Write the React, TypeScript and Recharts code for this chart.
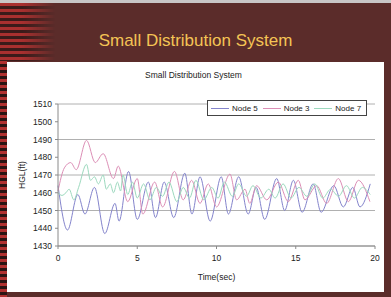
import React from 'react';
import { LineChart, Line, XAxis, YAxis, CartesianGrid, Legend } from 'recharts';

const seriesNames = ['Node 5', 'Node 3', 'Node 7'];
const seriesColors = ['#8484cc', '#dc8eb6', '#9cd9be'];

const xTicks = [0, 5, 10, 15, 20];
const yTicks = [1430, 1440, 1450, 1460, 1470, 1480, 1490, 1500, 1510];

// turning points (time in sec, HGL in ft)
const node5Time = [0, 0.6, 1.25, 1.7, 2.3, 2.95, 3.6, 3.85, 4.45, 5.0, 5.7, 6.15, 6.7, 7.3, 8.0, 8.45, 8.96, 9.6, 10.3, 10.75, 11.4, 12.0, 12.5, 13.04, 13.8, 14.3, 14.85, 15.4, 16.1, 16.6, 17.4, 18.0, 18.6, 19.05, 19.7];
const node5Hgl = [1464, 1439, 1459, 1448, 1463, 1437, 1454, 1444, 1472, 1445, 1466, 1446, 1466, 1446, 1471, 1448, 1469, 1444, 1469, 1448, 1469, 1448, 1463, 1445, 1468, 1450, 1467, 1449, 1465, 1449, 1464, 1452, 1463, 1452, 1465];

const node3Time = [0, 0.4, 0.8, 1.15, 1.8, 2.35, 2.85, 3.5, 3.8, 4.4, 5.0, 5.35, 6.1, 6.6, 7.35, 7.9, 8.43, 8.96, 9.48, 10.0, 10.85, 11.27, 11.8, 12.1, 12.53, 13.17, 13.9, 14.53, 15.16, 15.58, 16.32, 16.95, 17.69, 18.32, 18.95, 19.68];
const node3Hgl = [1461, 1474, 1477, 1473, 1489.5, 1477, 1482, 1468, 1475, 1455, 1468, 1448, 1466, 1452, 1472, 1456, 1467, 1454, 1465, 1452, 1470.5, 1456, 1462, 1454, 1464, 1456, 1466, 1455, 1467, 1456, 1464, 1454, 1468, 1455, 1467, 1455];

const node7Time = [0, 0.25, 0.5, 0.7, 1.0, 1.3, 1.8, 2.05, 2.3, 2.55, 2.85, 3.05, 3.3, 3.5, 3.75, 3.95, 4.1, 4.4, 4.7, 5.0, 5.4, 5.8, 6.2, 6.6, 7.0, 7.5, 7.9, 8.3, 8.7, 9.2, 9.7, 10.1, 10.5, 11.0, 11.4, 11.9, 12.3, 12.8, 13.3, 13.7, 14.2, 14.7, 15.2, 15.7, 16.2, 16.7, 17.2, 17.7, 18.2, 18.7, 19.2, 19.7];
const node7Hgl = [1460, 1458.5, 1460, 1462, 1456, 1463, 1476, 1467, 1469, 1465, 1470, 1462, 1465, 1460, 1466, 1461, 1470, 1459, 1466, 1457, 1465, 1456, 1463, 1458, 1466, 1455, 1463, 1457, 1467, 1456, 1463, 1457, 1466, 1458, 1465, 1458, 1464, 1457, 1462, 1457, 1465, 1457, 1463, 1458, 1465, 1457, 1462, 1458, 1464, 1457, 1463, 1459];

const toPoints = (t: number[], v: number[]) => t.map((x, i) => ({ t: x, v: v[i] }));
const series = [
    toPoints(node5Time, node5Hgl),
    toPoints(node3Time, node3Hgl),
    toPoints(node7Time, node7Hgl),
];

const font = '"Liberation Sans", Arial, sans-serif';

function LegendBox() {
    return (
        <div style={{ display: 'flex', alignItems: 'center', height: 16, width: 160, paddingLeft: 3, background: '#fff', border: '1px solid #444', fontFamily: font, fontSize: 8, color: '#222', boxSizing: 'border-box', whiteSpace: 'nowrap' }}>
            {seriesNames.map((name, i) => (
                <div key={name} style={{ display: 'flex', alignItems: 'center', width: 53 }}>
                    <span style={{ display: 'inline-block', width: 18, height: 1, background: seriesColors[i], marginRight: 3 }} />
                    <span>{name}</span>
                </div>
            ))}
        </div>
    );
}

export default function App() {
    return (
        <div style={{ position: 'fixed', left: 0, top: 0, width: 391, height: 297, overflow: 'hidden', background: '#5b2c2a', fontFamily: font }}>
            <div style={{ position: 'absolute', left: 0, top: 0, width: 391, height: 3, background: '#c9c6c6' }} />
            <div style={{ position: 'absolute', left: 0, top: 3, width: 55, height: 58, background: 'repeating-linear-gradient(180deg, #a9302f 0px, #a9302f 3px, #3b1b1a 3px, #3b1b1a 6px)', WebkitMaskImage: 'linear-gradient(90deg, #000 40%, transparent 100%)', maskImage: 'linear-gradient(90deg, #000 40%, transparent 100%)' }} />
            <div style={{ position: 'absolute', left: 0, top: 61, width: 7, height: 236, background: 'repeating-linear-gradient(180deg, #b0302f 0px, #b0302f 3px, #2a1413 3px, #2a1413 6px)' }} />
            <div style={{ position: 'absolute', left: 0, top: 31, width: 391, textAlign: 'center', color: '#f4c455', fontSize: 17, lineHeight: '20px' }}>
                Small Distribution System
            </div>
            <div style={{ position: 'absolute', left: 7, top: 62, width: 377, height: 230, background: '#fff' }} />
            <div style={{ position: 'absolute', left: 0, top: 70, width: 391, textAlign: 'center', color: '#222', fontSize: 8.5, lineHeight: '10px', paddingRight: 4, boxSizing: 'border-box' }}>
                Small Distribution System
            </div>
            <div style={{ position: 'absolute', left: 0, top: 0 }}>
                <LineChart width={391} height={297} margin={{ top: 104, right: 16, bottom: 17, left: 8 }}>
                    <CartesianGrid vertical={false} stroke="#b0b0b0" strokeWidth={1} />
                    <XAxis
                        dataKey="t"
                        type="number"
                        domain={[0, 20]}
                        ticks={xTicks}
                        allowDuplicatedCategory={false}
                        height={34}
                        stroke="#8a8a8a"
                        tickSize={3}
                        tickMargin={6}
                        tick={{ fill: '#222', fontSize: 8.5, fontFamily: font }}
                        label={{ value: 'Time(sec)', position: 'insideBottom', offset: 0, fill: '#222', fontSize: 8.5, fontFamily: font }}
                    />
                    <YAxis
                        dataKey="v"
                        type="number"
                        domain={[1430, 1510]}
                        ticks={yTicks}
                        width={50}
                        stroke="#8a8a8a"
                        tickSize={3}
                        tickMargin={3}
                        tick={{ fill: '#222', fontSize: 8.5, fontFamily: font }}
                        label={{ value: 'HGL(ft)', angle: -90, position: 'insideLeft', offset: 14, fill: '#222', fontSize: 8.5, fontFamily: font, style: { textAnchor: 'middle' } }}
                    />
                    <Legend
                        layout="horizontal"
                        verticalAlign="middle"
                        align="center"
                        content={<LegendBox />}
                        wrapperStyle={{ position: 'absolute', left: 207, top: 100, width: 160 }}
                    />
                    {series.map((d, i) => (
                        <Line
                            key={seriesNames[i]}
                            data={d}
                            dataKey="v"
                            name={seriesNames[i]}
                            type="monotone"
                            stroke={seriesColors[i]}
                            strokeWidth={1}
                            dot={false}
                            activeDot={false}
                            isAnimationActive={false}
                        />
                    ))}
                </LineChart>
            </div>
        </div>
    );
}
